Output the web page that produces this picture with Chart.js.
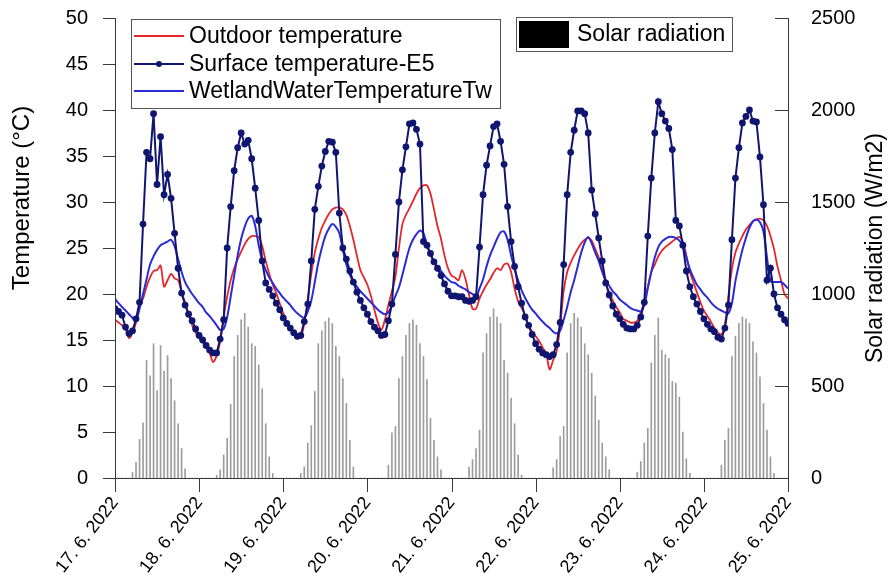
<!DOCTYPE html>
<html lang="en">
<head>
<meta charset="UTF-8" />
<title>Temperature and solar radiation</title>
<script src="https://cdn.jsdelivr.net/npm/chart.js"></script>
<style>
    html, body { margin: 0; padding: 0; background: #fff; }
</style>
</head>
<body>
<canvas id="chart" width="889" height="580"></canvas>
<script>
    // hourly readings, 17. 6. 2022 00:00 -> 25. 6. 2022 00:00
    const dateLabels = ['17. 6. 2022', '18. 6. 2022', '19. 6. 2022', '20. 6. 2022', '21. 6. 2022',
        '22. 6. 2022', '23. 6. 2022', '24. 6. 2022', '25. 6. 2022'];

    const outdoorTemp = [
        17.2, 16.9, 16.6, 16.2, 15.2, 15.8, 16.9, 18.8, 19.5, 20.8,
        21.8, 22.5, 22.6, 23.1, 20.8, 21.5, 22.2, 21.7, 21.5, 20.2,
        19.1, 17.8, 16.6, 15.8, 15.2, 14.8, 14.3, 13.6, 12.6, 13.3,
        14.8, 17.5, 19.7, 21.5, 22.8, 23.8, 24.6, 25.4, 26.0, 26.3,
        26.3, 26.2, 25.2, 23.6, 22.2, 21.0, 20.1, 19.0, 17.9, 17.0,
        16.3, 15.7, 15.2, 15.3, 16.8, 19.5, 22.2, 24.5, 26.0, 27.2,
        28.0, 28.7, 29.2, 29.4, 29.4, 29.2, 28.6, 27.4, 25.9, 24.2,
        22.6, 21.8, 21.0, 19.8, 18.3, 16.9, 16.1, 17.2, 18.8, 20.3,
        21.9, 25.0, 27.6, 28.6, 29.3, 30.1, 30.9, 31.5, 31.8, 31.8,
        30.9, 29.2, 27.4, 26.0, 24.2, 22.8, 22.0, 21.8, 21.5, 22.6,
        21.6, 19.9, 18.4, 18.4, 19.5, 20.3, 21.0, 21.6, 22.3, 22.8,
        22.6, 23.2, 23.3, 22.4, 20.6, 19.2, 18.5, 17.7, 16.6, 15.9,
        15.4, 14.9, 14.2, 13.5, 11.8, 12.8, 13.8, 16.5, 20.3, 22.4,
        23.4, 24.2, 24.9, 25.5, 25.9, 26.1, 25.8, 24.9, 24.0, 22.6,
        21.2, 20.2, 19.3, 18.6, 18.0, 17.3, 17.1, 16.9, 16.9, 17.1,
        17.9, 19.3, 20.8, 22.4, 23.2, 24.1, 24.7, 25.1, 25.4, 25.7,
        26.0, 26.2, 25.7, 24.2, 22.4, 21.3, 20.2, 19.1, 18.2, 17.6,
        17.0, 16.3, 15.8, 15.6, 16.7, 19.8, 22.7, 24.5, 25.5, 26.3,
        27.0, 27.5, 27.9, 28.1, 28.2, 28.0, 27.4, 26.3, 24.9, 23.0,
        21.5, 20.0, 19.5
    ];

    const surfaceTemp = [
        18.4, 18.1, 17.7, 16.4, 15.7, 16.0, 17.3, 19.1, 27.6, 35.4,
        34.7, 39.6, 31.9, 37.1, 30.8, 33.0, 30.4, 26.6, 22.8, 20.1,
        18.8, 17.8, 17.1, 16.2, 15.5, 15.0, 14.4, 13.9, 13.6, 13.6,
        15.1, 17.2, 25.0, 29.5, 33.4, 35.9, 37.5, 36.3, 36.7, 34.7,
        31.5, 28.0, 23.6, 21.2, 20.5, 19.8, 19.0, 18.3, 17.4, 16.8,
        16.3, 15.8, 15.4, 15.5, 17.0, 18.9, 23.6, 29.2, 31.7, 33.9,
        35.5, 36.6, 36.5, 35.4, 28.8, 25.0, 23.8, 22.5, 21.3, 20.2,
        19.3, 18.5, 17.8, 17.0, 16.4, 16.0, 15.5, 15.6, 17.1, 18.9,
        24.3, 30.0, 33.5, 36.0, 38.5, 38.6, 37.9, 36.3, 25.7, 25.3,
        24.4, 23.5, 22.8, 22.0, 21.1, 20.3, 19.8, 19.8, 19.7, 19.7,
        19.3, 19.2, 19.3, 19.7, 25.1, 30.8, 34.0, 36.1, 38.2, 38.5,
        36.6, 34.1, 29.5, 25.7, 23.0, 20.8, 19.0, 17.5, 16.6, 15.6,
        14.6, 14.0, 13.6, 13.4, 13.2, 13.4, 14.5, 16.9, 23.2, 30.8,
        35.4, 37.8, 39.9, 39.9, 39.6, 37.5, 31.3, 28.7, 26.1, 23.6,
        21.2, 19.9, 18.7, 17.8, 17.3, 16.7, 16.3, 16.2, 16.2, 16.6,
        17.5, 19.1, 26.3, 32.6, 37.5, 40.9, 39.6, 38.8, 38.0, 35.7,
        28.0, 27.4, 25.3, 22.5, 20.8, 19.7, 18.9, 18.1, 17.3, 16.7,
        16.2, 15.9, 15.3, 15.1, 16.3, 18.8, 25.9, 32.6, 35.9, 38.6,
        39.3, 40.0, 38.8, 38.7, 34.9, 29.7, 21.5, 22.8, 20.0, 18.5,
        17.8, 17.2, 16.8
    ];

    const wetlandTemp = [
        19.5, 19.0, 18.6, 18.2, 17.8, 17.4, 17.1, 18.4, 20.0, 21.6,
        23.2, 24.1, 24.8, 25.3, 25.5, 25.7, 25.9, 25.2, 23.8, 22.4,
        21.3, 20.6, 20.0, 19.5, 19.0, 18.6, 18.0, 17.6, 17.1, 16.6,
        16.1, 16.2, 17.5, 19.7, 22.0, 24.2, 26.0, 27.3, 28.2, 28.5,
        27.4, 25.3, 23.6, 22.6, 21.8, 21.2, 20.6, 20.1, 19.6, 19.2,
        18.8, 18.3, 17.9, 17.6, 17.4, 18.1, 19.3, 21.3, 23.4, 25.0,
        26.3, 27.1, 27.6, 27.3, 26.6, 24.8, 23.2, 22.1, 21.3, 20.8,
        20.3, 19.9, 19.5, 19.1, 18.7, 18.3, 18.0, 17.8, 18.0, 18.8,
        19.8, 20.7, 22.1, 23.6, 25.0, 25.9, 26.5, 26.9, 26.6, 25.3,
        24.3, 23.5, 22.9, 22.5, 22.0, 21.6, 21.3, 21.2, 20.9, 20.7,
        20.5, 20.2, 20.0, 19.7, 20.6, 21.6, 23.0, 24.2, 25.1, 26.0,
        26.7, 26.8, 25.9, 24.2, 22.7, 21.5, 20.4, 19.6, 18.9, 18.3,
        17.9, 17.4, 17.0, 16.6, 16.3, 15.9, 15.7, 16.0, 17.2, 18.6,
        20.2, 21.5, 23.0, 24.5, 25.6, 26.2, 25.5, 24.5, 23.6, 22.4,
        21.5, 20.9, 20.3, 19.9, 19.4, 19.1, 18.8, 18.5, 18.3, 18.2,
        18.1, 18.8, 20.6, 22.4, 24.0, 25.1, 25.7, 26.0, 26.2, 26.2,
        26.1, 25.8, 25.3, 24.0, 22.7, 21.8, 21.0, 20.5, 20.0, 19.6,
        19.1, 18.7, 18.4, 18.2, 18.0, 17.9, 19.0, 21.4, 23.2, 24.8,
        26.1, 27.2, 27.9, 28.1, 27.8, 26.8, 24.0, 21.4, 21.3, 21.3,
        21.3, 21.0, 20.6
    ];

    // W/m2, one row per day (24 h)
    const solarRadiation = [
        0, 0, 0, 0, 0, 30, 85, 210, 300, 640, 555, 730, 475, 720, 580, 665, 540, 420, 295, 160, 50, 0, 0, 0,
        0, 0, 0, 0, 0, 15, 45, 125, 215, 400, 660, 775, 860, 895, 820, 730, 715, 615, 485, 295, 115, 25, 0, 0,
        0, 0, 0, 0, 0, 25, 60, 190, 285, 470, 730, 800, 850, 870, 840, 715, 660, 540, 405, 205, 60, 0, 0, 0,
        0, 0, 0, 0, 0, 0, 70, 245, 280, 540, 660, 775, 840, 860, 830, 730, 660, 535, 325, 205, 115, 45, 0, 0,
        0, 0, 0, 0, 0, 60, 100, 160, 260, 680, 785, 875, 920, 875, 840, 640, 570, 435, 295, 125, 15, 0, 0, 0,
        0, 0, 0, 0, 0, 55, 100, 225, 280, 680, 840, 895, 870, 820, 730, 670, 570, 445, 315, 190, 115, 45, 0, 0,
        0, 0, 0, 0, 0, 30, 90, 190, 270, 625, 775, 870, 695, 670, 650, 525, 515, 440, 250, 105, 25, 0, 0, 0,
        0, 0, 0, 0, 0, 70, 205, 270, 660, 770, 840, 875, 865, 840, 740, 680, 550, 405, 260, 115, 25, 0, 0, 0,
        0
    ];

    const FONT = '"Liberation Sans", Arial, sans-serif';
    const AXIS_COLOR = '#3a3a3a';
    const RED = '#e3262b';
    const NAVY = '#10166f';
    const BLUE = '#2b2bd6';
    const BAR_GRAY = '#9c9c9c';

    function toPoints(values) {
        return values.map((v, i) => ({ x: i, y: v }));
    }

    // keep the plot box where the reference has it: label overflow must not push it around
    function fixBox(size, key) {
        return s => {
            s[key] = size;
            s.paddingTop = 0;
            s.paddingBottom = 0;
            s.paddingLeft = 0;
            s.paddingRight = 0;
        };
    }

    // axis lines, tick marks, axis titles and the two legend boxes
    const framePlugin = {
        id: 'frame',
        afterDraw(chart) {
            const { ctx, chartArea: a } = chart;
            const xs = chart.scales.x, ys = chart.scales.y, ys1 = chart.scales.y1;
            ctx.save();
            ctx.strokeStyle = AXIS_COLOR;
            ctx.lineWidth = 1;
            ctx.beginPath();
            ctx.moveTo(a.left + 0.5, a.top);
            ctx.lineTo(a.left + 0.5, a.bottom + 0.5);
            ctx.lineTo(a.right + 0.5, a.bottom + 0.5);
            ctx.lineTo(a.right + 0.5, a.top);
            ys.ticks.forEach(t => {
                const py = Math.round(ys.getPixelForValue(t.value)) + 0.5;
                ctx.moveTo(a.left - 12, py);
                ctx.lineTo(a.left, py);
            });
            ys1.ticks.forEach(t => {
                const py = Math.round(ys1.getPixelForValue(t.value)) + 0.5;
                ctx.moveTo(a.right - 13, py);
                ctx.lineTo(a.right, py);
            });
            xs.ticks.forEach(t => {
                const px = Math.round(xs.getPixelForValue(t.value)) + 0.5;
                ctx.moveTo(px, a.bottom);
                ctx.lineTo(px, a.bottom + 14);
            });
            ctx.stroke();

            // axis titles
            ctx.fillStyle = '#000';
            ctx.textAlign = 'center';
            ctx.textBaseline = 'middle';
            ctx.save();
            ctx.font = '24px ' + FONT;
            ctx.translate(22, 198);
            ctx.rotate(-Math.PI / 2);
            ctx.fillText('Temperature (°C)', 0, 0);
            ctx.restore();
            ctx.save();
            ctx.font = '23px ' + FONT;
            ctx.translate(876, 248);
            ctx.rotate(-Math.PI / 2);
            ctx.fillText('Solar radiation (W/m2)', 0, 0);
            ctx.restore();

            // legend for the temperature lines
            ctx.fillStyle = '#fff';
            ctx.strokeStyle = '#555';
            ctx.fillRect(131, 19, 369, 90);
            ctx.strokeRect(131.5, 19.5, 369, 89);
            const rows = [
                { text: 'Outdoor temperature', color: RED, dot: false, y: 36 },
                { text: 'Surface temperature-E5', color: NAVY, dot: true, y: 64 },
                { text: 'WetlandWaterTemperatureTw', color: BLUE, dot: false, y: 91 }
            ];
            ctx.font = '23px ' + FONT;
            ctx.textAlign = 'left';
            rows.forEach(r => {
                ctx.strokeStyle = r.color;
                ctx.lineWidth = 1.8;
                ctx.beginPath();
                ctx.moveTo(134, r.y);
                ctx.lineTo(184, r.y);
                ctx.stroke();
                if (r.dot) {
                    ctx.fillStyle = r.color;
                    ctx.beginPath();
                    ctx.arc(159, r.y, 3, 0, Math.PI * 2);
                    ctx.fill();
                }
                ctx.fillStyle = '#000';
                ctx.fillText(r.text, 189, r.y + 1);
            });

            // legend for the bars
            ctx.fillStyle = '#fff';
            ctx.strokeStyle = '#555';
            ctx.lineWidth = 1;
            ctx.fillRect(516, 17, 216, 35);
            ctx.strokeRect(516.5, 17.5, 216, 34);
            ctx.fillStyle = '#000';
            ctx.fillRect(519, 21, 50, 27);
            ctx.fillText('Solar radiation', 577, 35);
            ctx.restore();
        }
    };

    const ctx = document.getElementById('chart').getContext('2d');
    new Chart(ctx, {
        type: 'line',
        data: {
            datasets: [
                {
                    label: 'Surface temperature-E5',
                    data: toPoints(surfaceTemp),
                    borderColor: NAVY,
                    backgroundColor: NAVY,
                    borderWidth: 2,
                    pointRadius: 3.4,
                    pointBorderWidth: 0,
                    tension: 0,
                    yAxisID: 'y',
                    order: 1
                },
                {
                    label: 'WetlandWaterTemperatureTw',
                    data: toPoints(wetlandTemp),
                    borderColor: BLUE,
                    borderWidth: 2,
                    pointRadius: 0,
                    tension: 0.3,
                    yAxisID: 'y',
                    order: 2
                },
                {
                    label: 'Outdoor temperature',
                    data: toPoints(outdoorTemp),
                    borderColor: RED,
                    borderWidth: 1.8,
                    pointRadius: 0,
                    tension: 0.3,
                    yAxisID: 'y',
                    order: 3
                },
                {
                    type: 'bar',
                    label: 'Solar radiation',
                    data: toPoints(solarRadiation),
                    backgroundColor: BAR_GRAY,
                    barThickness: 1,
                    yAxisID: 'y1',
                    order: 10
                }
            ]
        },
        options: {
            responsive: false,
            animation: false,
            layout: { padding: { top: 18, left: 0, right: 0, bottom: 0 } },
            plugins: { legend: { display: false }, tooltip: { enabled: false } },
            scales: {
                x: {
                    type: 'linear',
                    min: 0,
                    max: 192,
                    offset: false,
                    grid: { display: false, drawTicks: false },
                    border: { display: false },
                    afterFit: fixBox(102, 'height'),
                    ticks: {
                        stepSize: 24,
                        autoSkip: false,
                        minRotation: 52,
                        maxRotation: 52,
                        padding: 15,
                        color: '#000',
                        font: { size: 18, family: FONT },
                        callback: v => dateLabels[v / 24] || ''
                    }
                },
                y: {
                    position: 'left',
                    min: 0,
                    max: 50,
                    grid: { display: false, drawTicks: false },
                    border: { display: false },
                    afterFit: fixBox(115, 'width'),
                    ticks: {
                        stepSize: 5,
                        padding: 27,
                        color: '#000',
                        font: { size: 20, family: FONT }
                    }
                },
                y1: {
                    position: 'right',
                    min: 0,
                    max: 2500,
                    grid: { display: false, drawTicks: false },
                    border: { display: false },
                    afterFit: fixBox(101, 'width'),
                    ticks: {
                        stepSize: 500,
                        padding: 23,
                        color: '#000',
                        font: { size: 20, family: FONT },
                        callback: v => String(v)
                    }
                }
            }
        },
        plugins: [framePlugin]
    });
</script>
</body>
</html>
